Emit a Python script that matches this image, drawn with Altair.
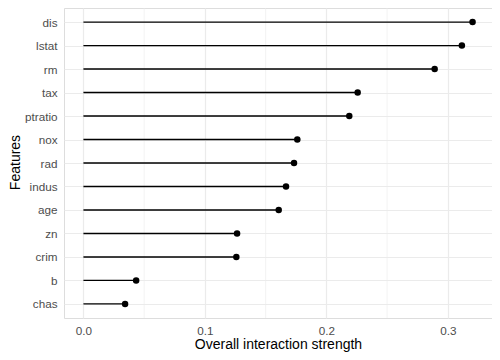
import altair as alt
import pandas as pd

features = ["dis", "lstat", "rm", "tax", "ptratio", "nox", "rad", "indus",
            "age", "zn", "crim", "b", "chas"]
strength = [0.3204, 0.3116, 0.2892, 0.2258, 0.2189, 0.1761, 0.1734, 0.1668,
            0.1608, 0.1265, 0.1259, 0.0434, 0.0343]
major_ticks = [0.0, 0.1, 0.2, 0.3]
minor_ticks = [0.05, 0.15, 0.25]

df = pd.DataFrame({"feature": features, "value": strength, "zero": [0.0] * len(features)})
minor_df = pd.DataFrame({"m": minor_ticks})

FONT = "Liberation Sans"
xdom = [-0.016, 0.3364]

xscale = alt.Scale(domain=xdom, nice=False, zero=False)
yscale = alt.Scale(type="point", padding=0.6, domain=features)

xaxis = alt.Axis(values=major_ticks, format=".1f", title="Overall interaction strength",
                 grid=True, gridColor="#EBEBEB", gridWidth=1.2,
                 domain=False, ticks=False, labelPadding=7,
                 labelColor="#4D4D4D", labelFontSize=11.7, labelFont=FONT,
                 titleFont=FONT, titleFontSize=14, titleFontWeight="normal",
                 titleColor="black", titlePadding=1)
yaxis = alt.Axis(title="Features", grid=True, gridColor="#EBEBEB", gridWidth=1.2,
                 domain=False, ticks=False, labelPadding=7,
                 labelColor="#4D4D4D", labelFontSize=11.7, labelFont=FONT,
                 titleFont=FONT, titleFontSize=14, titleFontWeight="normal",
                 titleColor="black", titleX=-45, titleY=154,
                 titleBaseline="alphabetic", titleAngle=270)

minor = alt.Chart(minor_df).mark_rule(color="#EBEBEB", strokeWidth=0.6).encode(
    x=alt.X("m:Q", scale=xscale, axis=xaxis)
)

base = alt.Chart(df)

seg = base.mark_rule(color="black", strokeWidth=1.4).encode(
    x=alt.X("zero:Q", scale=xscale, axis=xaxis),
    x2="value:Q",
    y=alt.Y("feature:N", scale=yscale, sort=features, axis=yaxis),
)

pts = base.mark_circle(color="black", opacity=1, size=42).encode(
    x=alt.X("value:Q", scale=xscale, axis=xaxis),
    y=alt.Y("feature:N", scale=yscale, sort=features, axis=yaxis),
)

chart = alt.layer(minor, seg, pts).properties(
    width=428, height=310,
    autosize=alt.AutoSizeParams(type="none"),
    padding={"left": 56, "top": 0, "right": 0, "bottom": 34},
).configure_view(stroke=None).configure(background="white")

chart.save("out.html", embed_options={"renderer": "svg", "actions": False})
